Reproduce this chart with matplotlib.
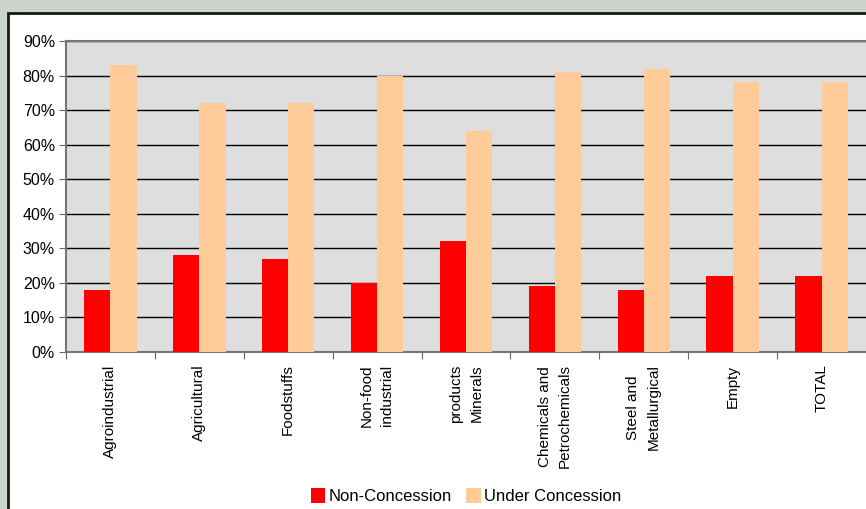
import numpy as np
import matplotlib.pyplot as plt
from matplotlib.patches import Rectangle

plt.rcParams['font.family'] = ['Liberation Sans', 'DejaVu Sans']

categories = ['Agroindustrial', 'Agricultural', 'Foodstuffs', 'Non-food\nindustrial',
              'products\nMinerals', 'Chemicals and\nPetrochemicals', 'Steel and\nMetallurgical',
              'Empty', 'TOTAL']
non_concession = [18, 28, 27, 20, 32, 19, 18, 22, 22]
under_concession = [83, 72, 72, 80, 64, 81, 82, 78, 78]

W, H = 866, 509
fig = plt.figure(figsize=(W / 100, H / 100), dpi=100, facecolor='#ccd5cc')

# white panel with dark border, drawn under the axes
panel = Rectangle((8 / W, -0.05), 1.0, (H - 13) / H + 0.05, transform=fig.transFigure,
                  facecolor='white', edgecolor='#1a1a1a', linewidth=2, clip_on=False,
                  zorder=-10)
fig.patches.append(panel)

ax = fig.add_axes([66 / W, (H - 352) / H, 800 / W, (352 - 41) / H])
ax.set_facecolor('#dedede')

x = np.arange(len(categories)) + 0.5
bw = 0.295
ax.bar(x - bw / 2, non_concession, bw, color='#ff0000', label='Non-Concession', zorder=3)
ax.bar(x + bw / 2, under_concession, bw, color='#ffcc99', label='Under Concession', zorder=3)

ax.set_xlim(0, len(categories))
ax.set_ylim(0, 90)
ax.set_yticks(range(0, 91, 10))
ax.set_yticklabels([f'{v}%' for v in range(0, 91, 10)], fontsize=11.5)
ax.yaxis.grid(True, color='black', linewidth=1, zorder=1)
ax.set_axisbelow(True)

ax.set_xticks(np.arange(len(categories) + 1))
ax.set_xticklabels([])
ax.set_xticks(x, minor=True)
ax.set_xticklabels(categories, minor=True, rotation=90, fontsize=11,
                   va='top', ha='center', multialignment='center', linespacing=1.6)
ax.tick_params(axis='x', which='minor', length=0, pad=9)
ax.tick_params(axis='x', which='major', length=5, color='#666666')
ax.tick_params(axis='y', length=5, color='#666666', pad=3)

for s in ['top', 'left', 'bottom']:
    ax.spines[s].set_color('#777777')
    ax.spines[s].set_linewidth(1.5)
ax.spines['right'].set_visible(False)

fig.legend(loc='center', bbox_to_anchor=(466 / W, (H - 496) / H), ncol=2, frameon=False,
           fontsize=12, handlelength=0.85, handleheight=1.0, handletextpad=0.2,
           columnspacing=0.9)

fig.savefig('out.png', dpi=100, facecolor=fig.get_facecolor())
